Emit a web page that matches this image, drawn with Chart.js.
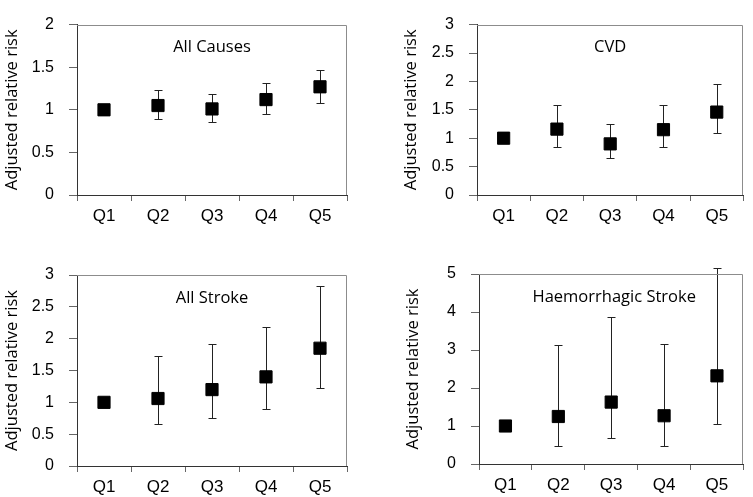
<!DOCTYPE html>
<html>
<head>
<meta charset="utf-8">
<script src="https://cdn.jsdelivr.net/npm/chart.js@4.4.1/dist/chart.umd.min.js"></script>
<style>
  html, body { margin: 0; padding: 0; background: #fff; }
  #wrap { position: relative; width: 753px; height: 497px; }
  canvas { position: absolute; }
</style>
</head>
<body>
<div id="wrap">
  <canvas id="c1" width="376" height="240" style="left:0;top:0"></canvas>
  <canvas id="c2" width="377" height="240" style="left:376px;top:0"></canvas>
  <canvas id="c3" width="376" height="257" style="left:0;top:240px"></canvas>
  <canvas id="c4" width="377" height="257" style="left:376px;top:240px"></canvas>
</div>
<script>
// quintile categories
const quintiles = ["Q1", "Q2", "Q3", "Q4", "Q5"];

// All Causes
const allCausesRR = [1.0, 1.05, 1.01, 1.12, 1.27];
const allCausesLow = [null, 0.89, 0.86, 0.95, 1.08];
const allCausesHigh = [null, 1.23, 1.19, 1.32, 1.47];

// CVD
const cvdRR = [1.0, 1.16, 0.9, 1.15, 1.46];
const cvdLow = [null, 0.85, 0.65, 0.84, 1.09];
const cvdHigh = [null, 1.59, 1.25, 1.58, 1.95];

// All Stroke
const strokeRR = [1.0, 1.06, 1.2, 1.4, 1.85];
const strokeLow = [null, 0.66, 0.755, 0.89, 1.22];
const strokeHigh = [null, 1.73, 1.91, 2.18, 2.82];

// Haemorrhagic Stroke
const haemRR = [1.0, 1.25, 1.63, 1.27, 2.32];
const haemLow = [null, 0.48, 0.68, 0.48, 1.05];
const haemHigh = [null, 3.14, 3.87, 3.17, 5.16];

// y axis ranges
const yMax = [2, 3, 3, 5];
const yStep = [0.5, 0.5, 0.5, 1];

const yTitle = "Adjusted relative risk";
const panelTitles = ["All Causes", "CVD", "All Stroke", "Haemorrhagic Stroke"];

const labelFont = "'Open Sans', 'DejaVu Sans', sans-serif";
const tickFont = "'Liberation Sans', Arial, sans-serif";

function makePanel(id, idx, rr, low, high, box) {
  // draws whiskers + frame + the title inside the plot
  const extras = {
    id: "extras" + idx,
    beforeDatasetsDraw(chart) {
      const ctx = chart.ctx;
      const x = chart.scales.x;
      const y = chart.scales.y;
      ctx.save();
      ctx.strokeStyle = "#222";
      ctx.lineWidth = 1;
      low.forEach((lo, i) => {
        if (lo == null) return;
        const px = Math.round(x.getPixelForValue(i)) + 0.5;
        const y1 = Math.round(y.getPixelForValue(lo)) + 0.5;
        const y2 = Math.round(y.getPixelForValue(high[i])) + 0.5;
        ctx.beginPath();
        ctx.moveTo(px, y1);
        ctx.lineTo(px, y2);
        ctx.moveTo(px - 4, y1);
        ctx.lineTo(px + 4, y1);
        ctx.moveTo(px - 4, y2);
        ctx.lineTo(px + 4, y2);
        ctx.stroke();
      });
      ctx.restore();
    },
    afterDraw(chart) {
      const ctx = chart.ctx;
      const a = chart.chartArea;
      ctx.save();
      ctx.strokeStyle = "#8c8c8c";
      ctx.lineWidth = 1;
      ctx.beginPath();
      ctx.moveTo(Math.round(a.left), Math.round(a.top) + 0.5);
      ctx.lineTo(Math.round(a.right) - 0.5, Math.round(a.top) + 0.5);
      ctx.lineTo(Math.round(a.right) - 0.5, Math.round(a.bottom));
      ctx.stroke();
      ctx.fillStyle = "#000";
      ctx.font = "16.5px " + labelFont;
      ctx.textAlign = "center";
      ctx.textBaseline = "middle";
      ctx.fillText(panelTitles[idx], (a.left + a.right) / 2 + (idx === 3 ? 3 : 0), a.top + 23);
      ctx.restore();
    },
  };

  new Chart(document.getElementById(id), {
    type: "line",
    data: {
      labels: quintiles,
      datasets: [
        {
          data: rr,
          showLine: false,
          pointStyle: "rect",
          pointRadius: 8.6,
          backgroundColor: "#000",
          borderColor: "#000",
          borderWidth: 1,
        },
      ],
    },
    options: {
      responsive: false,
      animation: false,
      events: [],
      layout: { padding: { left: 0, top: box.top, right: box.right, bottom: 0 } },
      plugins: { legend: { display: false }, tooltip: { enabled: false } },
      scales: {
        x: {
          type: "category",
          offset: true,
          afterFit: (s) => { s.height = box.xh; },
          grid: { offset: true, drawOnChartArea: false, tickLength: 6, color: "#666" },
          border: { color: "#333" },
          ticks: { color: "#000", padding: 5, font: { family: tickFont, size: 17 } },
        },
        y: {
          min: 0,
          max: yMax[idx],
          afterFit: (s) => { s.width = box.yw; },
          grid: { drawOnChartArea: false, tickLength: 8, color: "#666" },
          border: { color: "#333" },
          ticks: {
            stepSize: yStep[idx],
            color: "#000",
            padding: 15,
            font: { family: tickFont, size: 16 },
            callback: (v) => String(+Number(v).toFixed(2)),
          },
          title: {
            display: true,
            text: yTitle,
            color: "#000",
            padding: { top: box.tp, bottom: 0 },
            font: { family: labelFont, size: 16.5 },
          },
        },
      },
    },
    plugins: [extras],
  });
}

makePanel("c1", 0, allCausesRR, allCausesLow, allCausesHigh, { top: 6, right: 29, xh: 45, yw: 77, tp: 2 });
makePanel("c2", 1, cvdRR, cvdLow, cvdHigh, { top: 6, right: 5, xh: 45, yw: 101, tp: 25 });
makePanel("c3", 2, strokeRR, strokeLow, strokeHigh, { top: 35, right: 29, xh: 31, yw: 77, tp: 2 });
makePanel("c4", 3, haemRR, haemLow, haemHigh, { top: 34, right: 4, xh: 33, yw: 103, tp: 27 });
</script>
</body>
</html>
